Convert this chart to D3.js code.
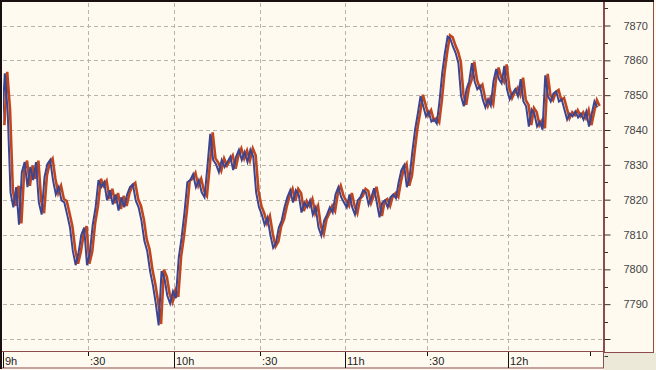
<!DOCTYPE html>
<html>
<head>
<meta charset="utf-8">
<script src="https://cdn.jsdelivr.net/npm/d3@7"></script>
<style>
  html, body { margin: 0; padding: 0; background: #fffaf0; }
  svg { display: block; }
</style>
</head>
<body>
<div id="chart"></div>
<script>
// one price per minute, starting at 9:00
var prices = [
  7841.2, 7856.5, 7845.5, 7822.3, 7818.0, 7823.8, 7813.0, 7828.1, 7831.0, 7823.8,
  7829.6, 7825.8, 7831.0, 7819.4, 7815.9, 7826.7, 7830.4, 7831.6, 7825.8, 7821.7,
  7823.8, 7820.0, 7819.4, 7815.9, 7812.2, 7805.5, 7801.4, 7804.9, 7810.1, 7812.2,
  7801.4, 7804.9, 7813.0, 7818.0, 7825.8, 7823.8, 7825.2, 7820.0, 7822.9, 7818.8,
  7821.7, 7817.1, 7820.9, 7818.0, 7821.7, 7823.8, 7824.6, 7820.0, 7818.0, 7814.2,
  7808.4, 7805.5, 7799.7, 7795.6, 7790.4, 7784.1, 7799.7, 7797.7, 7792.7, 7790.4,
  7793.9, 7791.9, 7803.5, 7809.3, 7816.5, 7825.2, 7825.8, 7827.5, 7823.8, 7825.8,
  7822.3, 7820.9, 7829.6, 7839.1, 7831.6, 7830.4, 7828.1, 7831.6, 7829.6, 7831.0,
  7832.5, 7828.7, 7832.5, 7834.5, 7831.6, 7833.9, 7831.0, 7834.5, 7832.5, 7822.3,
  7818.0, 7815.9, 7813.0, 7815.1, 7810.1, 7806.4, 7807.8, 7812.2, 7814.2, 7818.0,
  7820.9, 7822.9, 7819.4, 7822.9, 7821.7, 7816.5, 7819.4, 7818.0, 7820.0, 7815.9,
  7818.0, 7812.2, 7809.9, 7814.2, 7815.9, 7818.0, 7816.5, 7821.7, 7823.8, 7820.9,
  7819.4, 7818.0, 7821.7, 7818.0, 7815.9, 7820.0, 7820.9, 7822.9, 7822.3, 7818.8,
  7820.9, 7823.5, 7819.4, 7815.1, 7819.4, 7820.0, 7818.0, 7820.9, 7821.7, 7820.6,
  7825.2, 7828.7, 7830.1, 7823.8, 7826.7, 7833.9, 7840.3, 7844.9, 7849.9, 7847.0,
  7844.1, 7845.5, 7842.6, 7843.2, 7842.0, 7848.4, 7856.5, 7862.3, 7867.0, 7866.4,
  7864.1, 7862.3, 7859.4, 7849.9, 7847.0, 7851.9, 7854.2, 7859.4, 7854.2, 7851.9,
  7852.8, 7849.0, 7846.7, 7849.0, 7847.2, 7854.2, 7857.7, 7854.8, 7853.6, 7858.6,
  7851.9, 7849.0, 7850.7, 7851.9, 7849.9, 7854.8, 7848.4, 7847.0, 7841.2, 7846.1,
  7844.9, 7841.2, 7842.6, 7840.3, 7855.9, 7849.9, 7848.4, 7850.7, 7851.3, 7848.4,
  7849.0, 7846.1, 7843.2, 7844.9, 7844.1, 7845.5, 7843.8, 7844.9, 7843.2, 7845.5,
  7841.2, 7844.9, 7848.4, 7846.7
];

// x axis: minutes after 9:00 and their labels
var timeTicks = [0, 30, 60, 90, 120, 150, 180, 210];
var timeLabels = ["9h", ":30", "10h", ":30", "11h", ":30", "12h", ""];

// y axis
var priceTicks = [7780, 7790, 7800, 7810, 7820, 7830, 7840, 7850, 7860, 7870];
var priceLabels = ["", "7790", "7800", "7810", "7820", "7830", "7840", "7850", "7860", "7870"];

var W = 656, H = 370;
var plotL = 3, plotR = 603.5, plotT = 3, plotB = 351.5;
var brown = "#8e4b4b";

var svg = d3.select("#chart")
    .append("svg")
    .attr("width", W)
    .attr("height", H);

// the time axis is not quite even, so the scale has one stop per tick
var x = d3.scaleLinear()
    .domain(timeTicks)
    .range([3, 88, 174, 260, 345, 427, 508, 590]);

var y = d3.scaleLinear()
    .domain([7780, 7870])
    .range([339, 25.5]);

svg.append("rect")
    .attr("width", W)
    .attr("height", H)
    .attr("fill", "#fffaf0");

// gray corner under the price panel
svg.append("rect")
    .attr("x", 604)
    .attr("y", 353)
    .attr("width", W - 604)
    .attr("height", H - 353)
    .attr("fill", "#ece9d8");

// grid
var grid = svg.append("g")
    .attr("stroke", "#b8b4ac")
    .attr("stroke-width", 1)
    .attr("stroke-dasharray", "4,3");

grid.selectAll("line.h")
    .data(priceTicks)
    .enter()
    .append("line")
    .attr("class", "h")
    .attr("x1", plotL)
    .attr("x2", plotR)
    .attr("y1", function(d) { return Math.round(y(d)) + 0.5; })
    .attr("y2", function(d) { return Math.round(y(d)) + 0.5; });

grid.selectAll("line.v")
    .data(timeTicks.slice(1, 7))
    .enter()
    .append("line")
    .attr("class", "v")
    .attr("x1", function(d) { return Math.round(x(d)) + 0.5; })
    .attr("x2", function(d) { return Math.round(x(d)) + 0.5; })
    .attr("y1", plotT)
    .attr("y2", plotB);

// price line, drawn twice with a small shift (red behind, blue in front)
svg.append("clipPath")
    .attr("id", "clip")
    .append("rect")
    .attr("x", plotL)
    .attr("y", plotT)
    .attr("width", plotR - plotL)
    .attr("height", plotB - plotT);

var line = d3.line()
    .x(function(d, i) { return x(i); })
    .y(function(d) { return y(d); });

var lines = svg.append("g").attr("clip-path", "url(#clip)");

lines.append("path")
    .datum(prices)
    .attr("d", line)
    .attr("transform", "translate(1.4,-0.7)")
    .attr("fill", "none")
    .attr("stroke", "#c2461d")
    .attr("stroke-width", 2.6)
    .attr("stroke-linejoin", "miter");

lines.append("path")
    .datum(prices)
    .attr("d", line)
    .attr("transform", "translate(-1,0.7)")
    .attr("fill", "none")
    .attr("stroke", "#3b4590")
    .attr("stroke-width", 2)
    .attr("stroke-linejoin", "miter");

// borders
svg.append("rect")
    .attr("x", 604.5)
    .attr("y", 1.5)
    .attr("width", 49)
    .attr("height", 351)
    .attr("fill", "none")
    .attr("stroke", brown);

svg.append("rect")
    .attr("x", 1.5)
    .attr("y", 351.5)
    .attr("width", 602)
    .attr("height", 16.5)
    .attr("fill", "none")
    .attr("stroke", brown);

svg.append("line")
    .attr("x1", 603.5).attr("x2", 603.5)
    .attr("y1", 1).attr("y2", 352)
    .attr("stroke", brown);

svg.append("line")
    .attr("x1", 0).attr("x2", W - 2)
    .attr("y1", 1).attr("y2", 1)
    .attr("stroke", "#1a1010")
    .attr("stroke-width", 2);

svg.append("line")
    .attr("x1", 1).attr("x2", 1)
    .attr("y1", 0).attr("y2", 369)
    .attr("stroke", "#1a1010")
    .attr("stroke-width", 2);

// right (price) axis
var yAxis = d3.axisRight(y)
    .tickValues(priceTicks)
    .tickSize(6)
    .tickPadding(13)
    .tickFormat(function(d, i) { return priceLabels[i]; });

var gy = svg.append("g")
    .attr("transform", "translate(604.5,0)")
    .call(yAxis);
gy.select(".domain").remove();
gy.selectAll(".tick line").attr("stroke", "#333");
gy.selectAll(".tick text")
    .attr("fill", "#444")
    .attr("font-family", "Liberation Sans, Arial, sans-serif")
    .attr("font-size", "11px");

// minor price ticks at the fives
var minor = d3.range(7775, 7880, 10);
svg.append("g").selectAll("line")
    .data(minor)
    .enter()
    .append("line")
    .attr("x1", 604.5)
    .attr("x2", 608)
    .attr("y1", function(d) { return Math.round(y(d)) + 0.5; })
    .attr("y2", function(d) { return Math.round(y(d)) + 0.5; })
    .attr("stroke", "#333");

// bottom (time) axis: hours get a full tick, half hours a short one
var gx = svg.append("g");
gx.selectAll("line")
    .data(timeTicks)
    .enter()
    .append("line")
    .attr("x1", function(d) { return Math.round(x(d)) + 0.5; })
    .attr("x2", function(d) { return Math.round(x(d)) + 0.5; })
    .attr("y1", 352)
    .attr("y2", function(d) { return d % 60 == 0 ? 368 : 356; })
    .attr("stroke", "#111");

gx.selectAll("text")
    .data(timeTicks)
    .enter()
    .append("text")
    .attr("x", function(d) { return Math.round(x(d)) + 2; })
    .attr("y", 364.5)
    .attr("fill", "#222")
    .attr("font-family", "Liberation Sans, Arial, sans-serif")
    .attr("font-size", "11px")
    .text(function(d, i) { return timeLabels[i]; });
</script>
</body>
</html>
